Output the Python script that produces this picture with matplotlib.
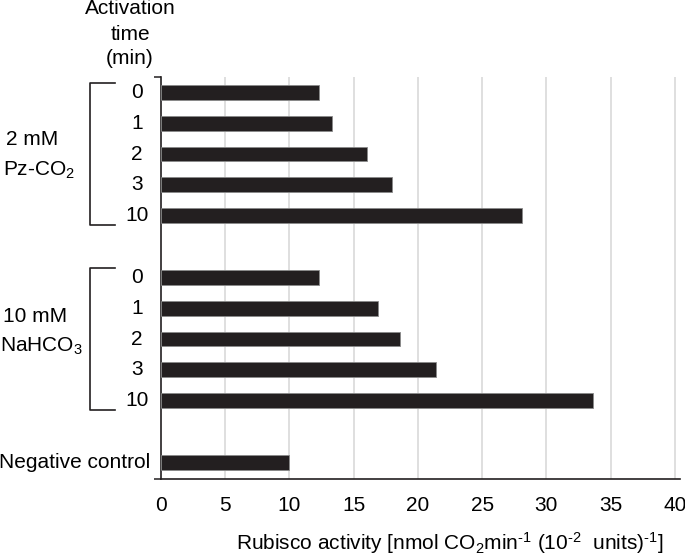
import matplotlib
matplotlib.use('Agg')
import matplotlib.pyplot as plt
import matplotlib.transforms as mtrans

FS = 15

plt.rcParams.update({
    'font.family': ['Liberation Sans', 'DejaVu Sans'],
    'font.size': FS,
    'mathtext.fontset': 'custom',
    'mathtext.rm': 'Liberation Sans',
    'mathtext.it': 'Liberation Sans',
})

# Data
pz_times = ['0', '1', '2', '3', '10']
pz_values = [12.3, 13.3, 16.0, 18.0, 28.1]
na_times = ['0', '1', '2', '3', '10']
na_values = [12.3, 16.9, 18.6, 21.4, 33.6]
neg_label = 'Negative control'
neg_value = 10.0
x_ticks = [0, 5, 10, 15, 20, 25, 30, 35, 40]

BAR = '#231f20'
GRID = '#d9d9d9'

pz_pos = [0, 1, 2, 3, 4]
na_pos = [6, 7, 8, 9, 10]
neg_pos = 12

fig = plt.figure(figsize=(6.85, 5.55), dpi=100)
ax = fig.add_axes([0.235, 0.1364, 0.7577, 0.7249])

for pos, vals in ((pz_pos, pz_values), (na_pos, na_values), ([neg_pos], [neg_value])):
    ax.barh(pos, vals, height=0.48, color=BAR, edgecolor='#8a8a8a',
            linewidth=0.6, zorder=3)

ax.set_xlim(0, 40.4)
ax.set_ylim(12.55, -0.5)

# x axis: grid at 5..40, one tick mark at 0
ax.set_xticks(x_ticks)
ax.tick_params(axis='x', length=0, pad=12, labelsize=FS)
ax.set_xticks([0], minor=True)
ax.tick_params(axis='x', which='minor', length=6, width=1.1, color=BAR)
for x in x_ticks[1:]:
    ax.axvline(x, color=GRID, lw=1.2, zorder=1)

# y axis: only end tick marks, labels drawn as text
ax.set_yticks([-0.5, 12.55])
ax.set_yticklabels([])
ax.tick_params(axis='y', length=5, width=1.1, color=BAR)

for side in ('top', 'right'):
    ax.spines[side].set_visible(False)
for side in ('left', 'bottom'):
    ax.spines[side].set_color(BAR)
    ax.spines[side].set_linewidth(1.2)

# category labels
to_pix = mtrans.blended_transform_factory(fig.transFigure, ax.transData)
def fx(px):
    return px / 685.0

for pos, lab in zip(pz_pos + na_pos, pz_times + na_times):
    ax.text(fx(137), pos, lab, transform=to_pix, ha='center', va='center')
ax.text(fx(150), neg_pos, neg_label, transform=to_pix, ha='right', va='center')

# group brackets
for pos in (pz_pos, na_pos):
    y0, y1 = pos[0] - 0.3, pos[-1] + 0.3
    ax.plot([fx(115), fx(89.5), fx(89.5), fx(115)], [y0, y0, y1, y1],
            transform=to_pix, color=BAR, lw=1.2, clip_on=False)

ax.text(fx(6), 1.54, '2 mM', transform=to_pix, ha='left', va='center')
ax.text(fx(3), 2.52, r'Pz-CO$_2$', transform=to_pix, ha='left', va='center')
ax.text(fx(3), 7.27, '10 mM', transform=to_pix, ha='left', va='center')
ax.text(fx(0), 8.25, r'NaHCO$_3$', transform=to_pix, ha='left', va='center')

fig.text(fx(130), 1 - 34 / 555.0, 'Activation\ntime\n(min)', ha='center',
         va='center', linespacing=1.4)

fig.text(fx(450), 1 - 543 / 555.0,
         r'Rubisco activity [nmol CO$_2$min$^{\text{-1}}$ (10$^{\text{-2}}$  units)$^{\text{-1}}$]',
         ha='center', va='center')

fig.savefig('out.png', dpi=100)
